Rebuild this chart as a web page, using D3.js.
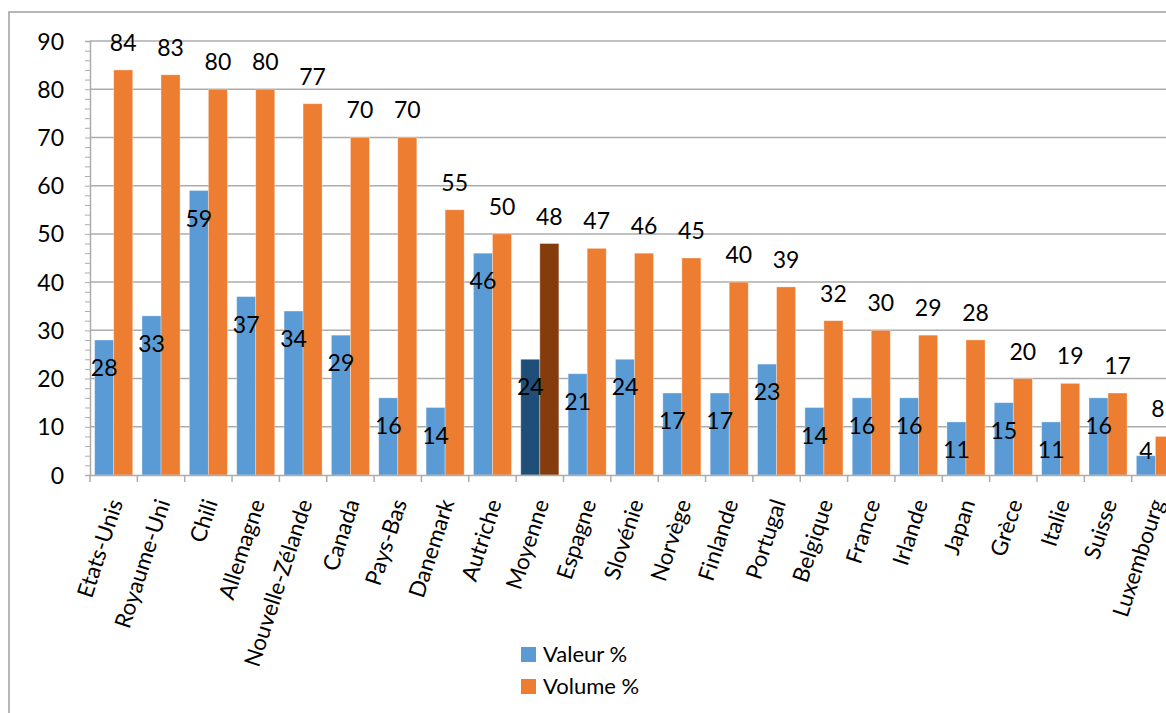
<!DOCTYPE html>
<html><head><meta charset="utf-8">
<script src="https://cdn.jsdelivr.net/npm/d3@7"></script>
<style>body{margin:0;background:#fff}svg{display:block}text{font-family:Lato,"Open Sans",sans-serif;fill:#000}</style>
</head><body>
<svg id="c" width="1166" height="713"></svg>
<script>
const categories=["Etats-Unis","Royaume-Uni","Chili","Allemagne","Nouvelle-Zélande","Canada","Pays-Bas","Danemark","Autriche","Moyenne","Espagne","Slovénie","Norvège","Finlande","Portugal","Belgique","France","Irlande","Japan","Grèce","Italie","Suisse","Luxembourg"];
const valeur=[28,33,59,37,34,29,16,14,46,24,21,24,17,17,23,14,16,16,11,15,11,16,4];
const volume=[84,83,80,80,77,70,70,55,50,48,47,46,45,40,39,32,30,29,28,20,19,17,8];
const yTicks=[0,10,20,30,40,50,60,70,80,90];
const seriesNames=["Valeur %","Volume %"];
const highlight="Moyenne";

const colors={v:"#5B9BD5",o:"#ED7D31",vd:"#1F4E79",od:"#843C0C"};
const svg=d3.select("#c");
const pL=90,pT=41,pB=475,pR=90+23*47.35;
const x=d3.scaleBand().domain(categories).range([pL,pR]).paddingInner(0.196).paddingOuter(0.098);
const xs=d3.scaleBand().domain(["v","o"]).range([0,x.bandwidth()]);
const y=d3.scaleLinear().domain([0,90]).range([pB,pT]);

// chart border
svg.append("rect").attr("x",9).attr("y",12).attr("width",1200).attr("height",760).attr("fill","none").attr("stroke","#a0a0a0").attr("stroke-width",1.5);

// gridlines
svg.append("g").selectAll("line").data(yTicks.filter(d=>d>0)).join("line")
 .attr("x1",pL).attr("x2",pR).attr("y1",d=>y(d)).attr("y2",d=>y(d))
 .attr("stroke","#acacac").attr("stroke-width",1.5);

// y axis
const yAxis=d3.axisLeft(y).tickValues(d3.range(0,91,2)).tickSize(5).tickFormat(d=>d%10===0?d:"");
const gy=svg.append("g").attr("transform",`translate(${pL},0)`).call(yAxis);
gy.select(".domain").attr("stroke","#acacac").attr("stroke-width",1.5);
gy.selectAll(".tick line").attr("stroke","#acacac").attr("stroke-width",1);
gy.selectAll(".tick text").attr("x",-26).style("font-size","23px").attr("dy","0.35em");

// bars
const g=svg.append("g");
categories.forEach((c,i)=>{
  const hi=c===highlight;
  g.append("rect").attr("x",x(c)+xs("v")).attr("width",xs.bandwidth()).attr("y",y(valeur[i])).attr("height",y(0)-y(valeur[i]))
   .attr("fill",hi?colors.vd:colors.v).attr("stroke","#fff").attr("stroke-opacity",0.4).attr("stroke-width",0.8);
  g.append("rect").attr("x",x(c)+xs("o")).attr("width",xs.bandwidth()).attr("y",y(volume[i])).attr("height",y(0)-y(volume[i]))
   .attr("fill",hi?colors.od:colors.o).attr("stroke","#fff").attr("stroke-opacity",0.4).attr("stroke-width",0.8);
});

// x axis
const xAxis=d3.axisBottom(x).tickSize(0).tickFormat("");
const gx=svg.append("g").attr("transform",`translate(0,${pB})`).call(xAxis);
gx.select(".domain").attr("stroke","#acacac").attr("stroke-width",1.5);
gx.selectAll(".tick").remove();
gx.selectAll("line.b").data(categories.concat(["_end"])).join("line").attr("class","b")
 .attr("x1",(d,i)=>pL+i*47.35).attr("x2",(d,i)=>pL+i*47.35).attr("y1",0).attr("y2",7)
 .attr("stroke","#acacac").attr("stroke-width",1.5);

// category labels
svg.append("g").selectAll("text").data(categories).join("text")
 .attr("transform",d=>`translate(${x(d)+x.bandwidth()/2+2},500) rotate(-72)`)
 .attr("text-anchor","end").attr("dy","0.35em").style("font-size","22.5px").text(d=>d);

// value labels
const lab=svg.append("g").style("font-size","23px").attr("text-anchor","middle");
categories.forEach((c,i)=>{
  lab.append("text").attr("x",x(c)+xs("v")+xs.bandwidth()/2).attr("y",Math.min(y(valeur[i])+28,451)).attr("dy","0.35em").text(valeur[i]);
  lab.append("text").attr("x",Math.min(x(c)+xs("o")+xs.bandwidth()/2,1158)).attr("y",y(volume[i])-27).attr("dy","0.35em").text(volume[i]);
});

// legend
const lg=svg.append("g").attr("transform","translate(521,647)");
seriesNames.forEach((s,i)=>{
  lg.append("rect").attr("x",0).attr("y",i*32).attr("width",15).attr("height",15).attr("fill",i===0?colors.v:colors.o);
  lg.append("text").attr("x",22).attr("y",i*32+7.5).attr("dy","0.35em").style("font-size","22px").text(s);
});
</script>
</body></html>
